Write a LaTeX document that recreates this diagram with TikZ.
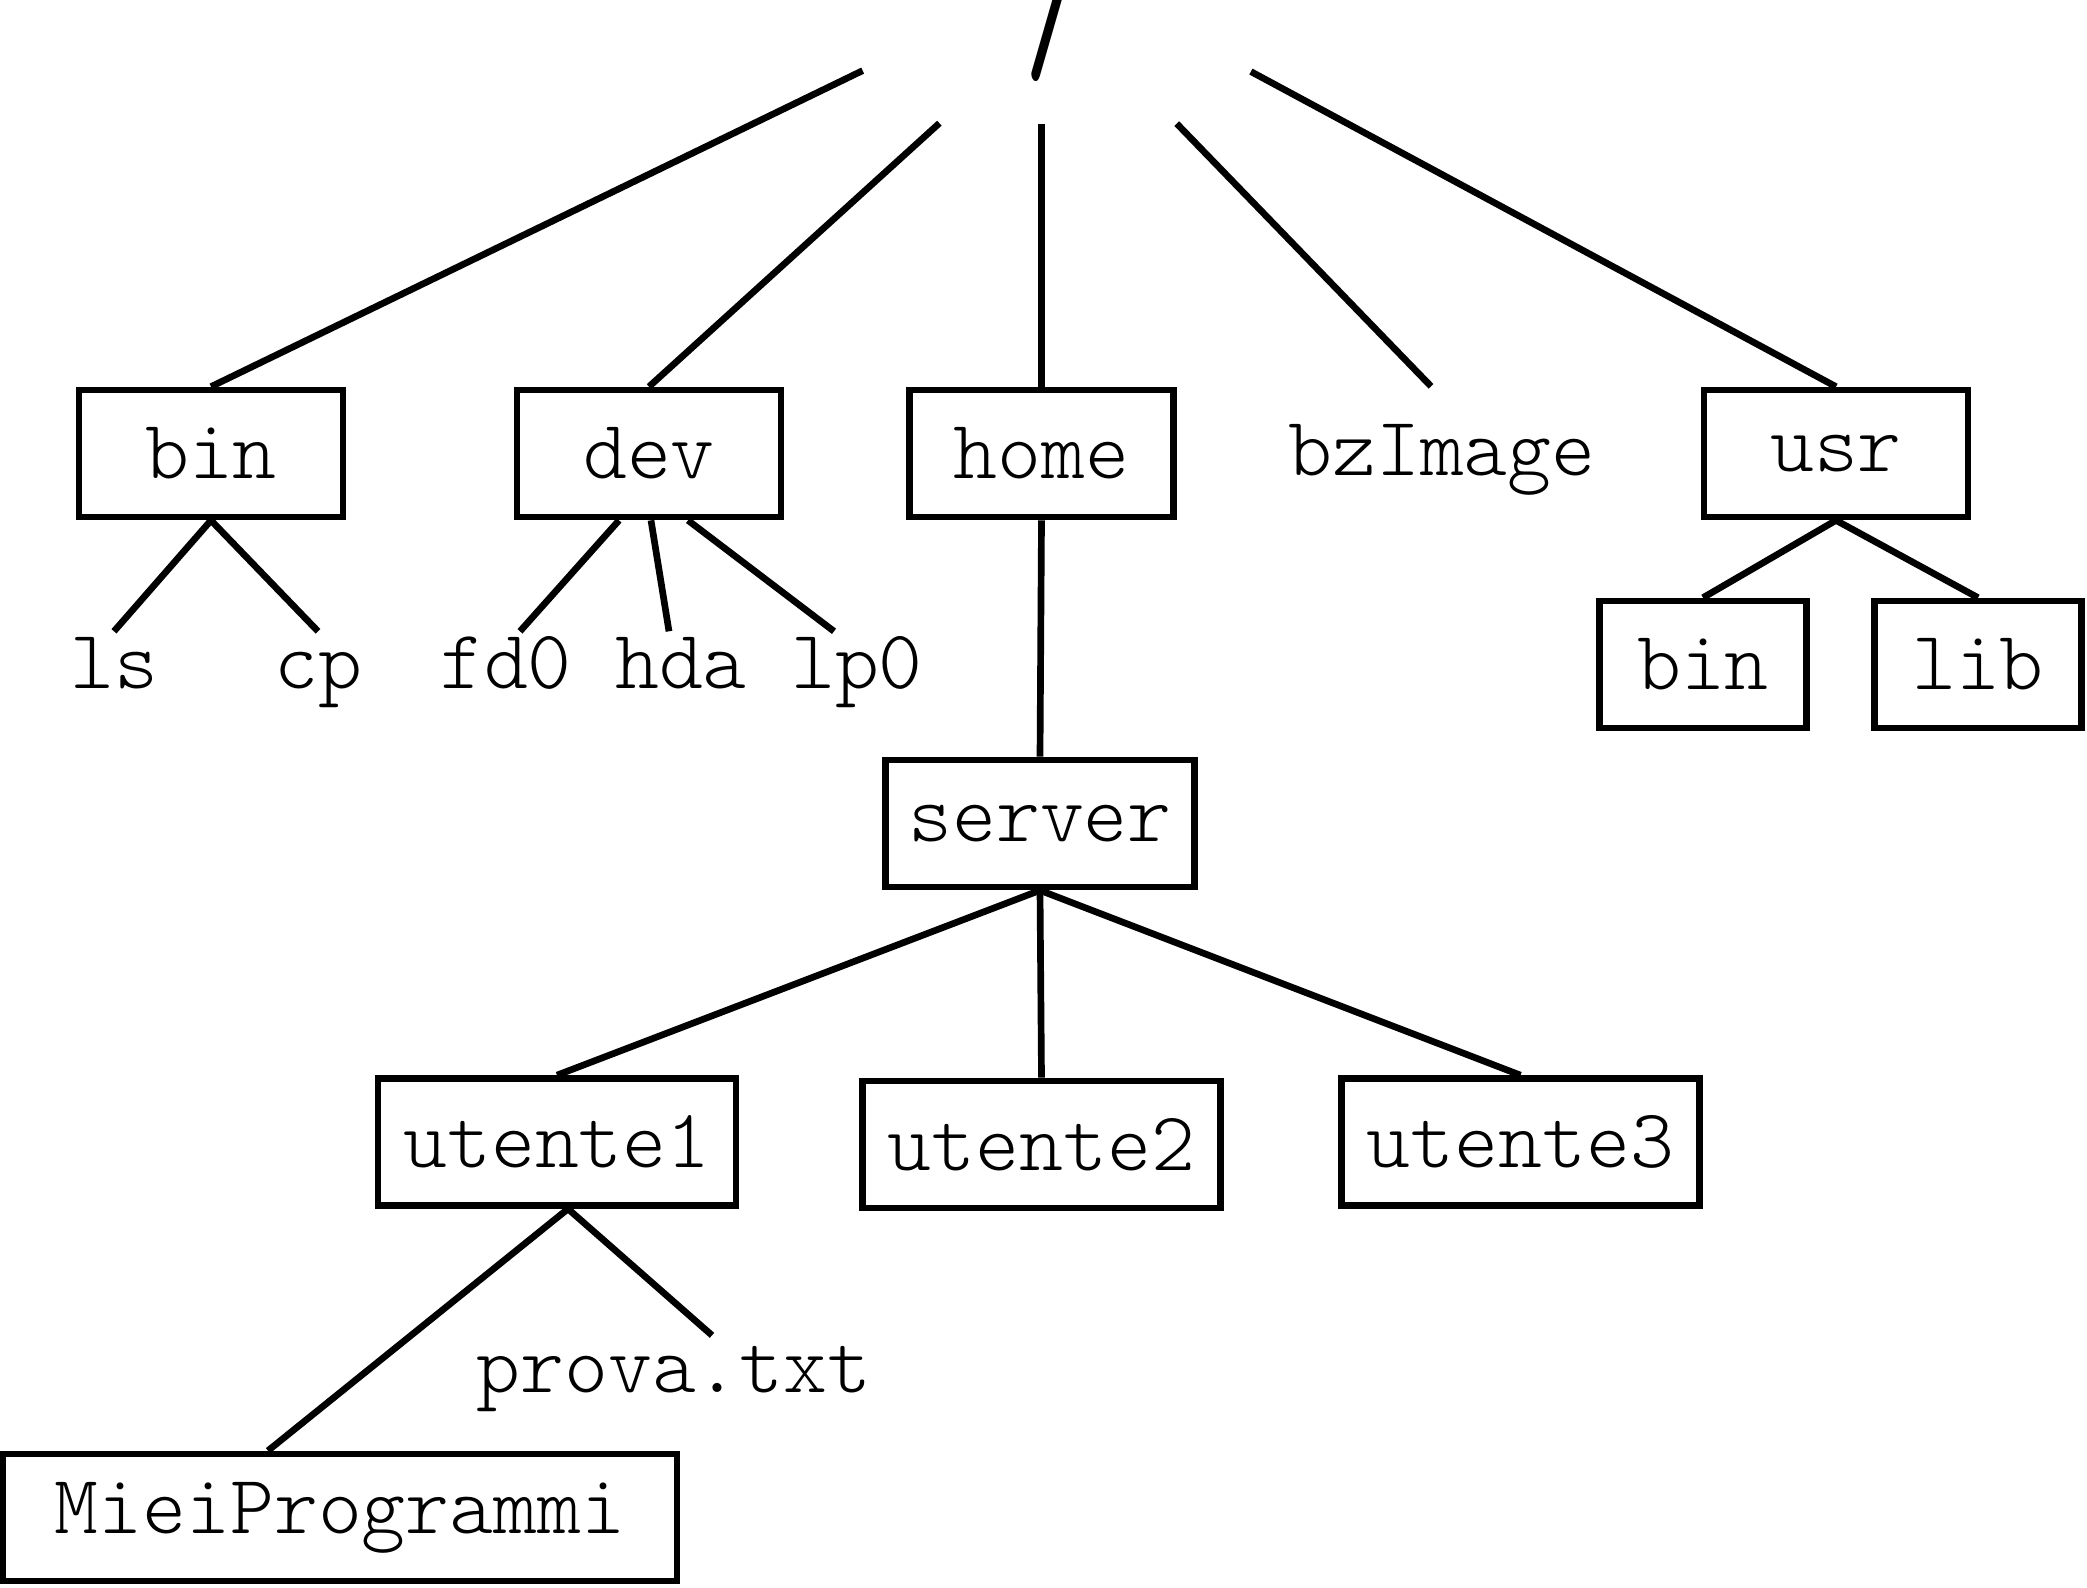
\documentclass[tikz,border=0pt]{standalone}
\usepackage{fontspec}
\setmonofont{Latin Modern Mono Light}
\usetikzlibrary{positioning}

\begin{document}
\begin{tikzpicture}[x=1cm, y=-1cm,
    font=\fontsize{23.8}{28}\selectfont\ttfamily,
    dirbox/.style={draw, line width=1.9pt, minimum height=1.27cm, inner sep=0pt},
    leaf/.style={anchor=base, inner sep=0.06cm, text height=0.5cm, text depth=0.18cm},
    link/.style={line width=1.9pt}]
  \useasboundingbox (0,0) rectangle (20.87,15.87);

  % Root directory (cut by the top edge)
  \node[font=\fontsize{48}{48}\selectfont\ttfamily, inner sep=0pt] (root) at (10.66,-0.28)
    {\scalebox{1}[1.66]{/}};

  % First level
  \node[dirbox, minimum width=2.64cm] (bin) at (2.11,4.535) {bin};
  \node[dirbox, minimum width=2.64cm] (dev) at (6.49,4.535) {dev};
  \node[dirbox, minimum width=2.64cm] (home) at (10.415,4.535) {home};
  \node[leaf] (bz) at (14.42,4.75) {bzImage};
  \node[dirbox, minimum width=2.64cm] (usr) at (18.36,4.535) {usr};

  \draw[link, shorten <=2.26cm] (root.center) -- (bin.north);
  \draw[link, shorten <=2.25cm] ([xshift=0.4cm]root.center) -- (dev.north);
  \draw[link, shorten <=1.52cm] (root.center -| home.north) -- (home.north);
  \draw[link, shorten <=2.11cm] ([xshift=-0.36cm]root.center) -- ([shift={(-0.11,-0.32)}]bz.north);
  \draw[link, shorten <=2.10cm] (root.center) -- (usr.north);

  % Files in bin and dev
  \node[leaf] (ls) at (1.14,6.88) {ls};
  \node[leaf] (cp) at (3.18,6.88) {cp};
  \node[leaf] (fd0) at (5.06,6.88) {fd0};
  \node[leaf] (hda) at (6.81,6.88) {hda};
  \node[leaf] (lp0) at (8.57,6.88) {lp0};

  \draw[link] (bin.south) -- (ls.north);
  \draw[link] (bin.south) -- (cp.north);
  \draw[link] ([xshift=-0.30cm]dev.south) -- ([xshift=0.14cm]fd0.north);
  \draw[link] ([xshift=0.02cm]dev.south) -- ([xshift=-0.12cm]hda.north);
  \draw[link] ([xshift=0.39cm]dev.south) -- ([xshift=-0.23cm]lp0.north);

  % usr subtree
  \node[dirbox, minimum width=2.07cm] (usrbin) at (17.03,6.645) {bin};
  \node[dirbox, minimum width=2.07cm] (lib) at (19.78,6.645) {lib};
  \draw[link] (usr.south) -- (usrbin.north);
  \draw[link] (usr.south) -- (lib.north);

  % home subtree
  \node[dirbox, minimum width=3.09cm] (server) at (10.40,8.235) {server};
  \node[dirbox, minimum width=3.58cm] (ut1) at (5.57,11.42) {utente1};
  \node[dirbox, minimum width=3.58cm] (ut2) at (10.415,11.445) {utente2};
  \node[dirbox, minimum width=3.58cm] (ut3) at (15.205,11.42) {utente3};

  \draw[link] (home.south) -- (server.north);
  \draw[link] (server.south) -- (ut1.north);
  \draw[link] (server.south) -- (ut2.north);
  \draw[link] (server.south) -- (ut3.north);

  % utente1 contents
  \node[leaf] (prova) at (6.74,13.92) {prova.txt};
  \node[dirbox, minimum width=6.74cm] (progs) at (3.40,15.175) {MieiProgrammi};
  \draw[link] ([xshift=0.11cm]ut1.south) -- ([xshift=-0.72cm]progs.north);
  \draw[link] ([xshift=0.11cm]ut1.south) -- ([xshift=0.38cm]prova.north);
\end{tikzpicture}
\end{document}
